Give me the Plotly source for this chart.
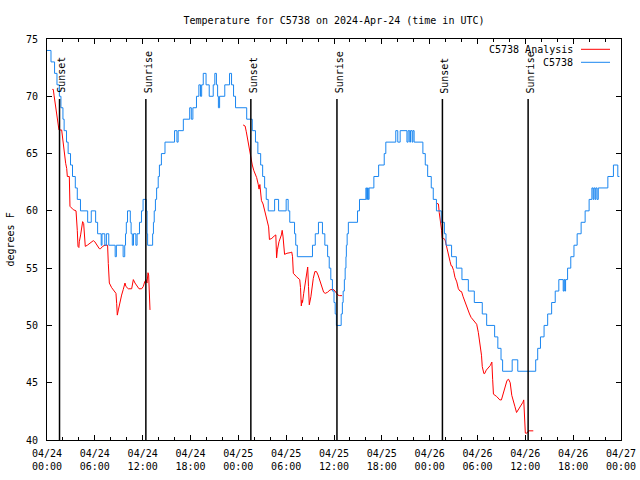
import pandas as pd
import plotly.graph_objects as go

BASE = pd.Timestamp("2024-04-24 00:00")

# ---- data (hours since 2024-04-24 00:00 UTC, degrees F) ----
obs_hours = [0.0, 0.5, 0.95, 1.25, 1.55, 1.75, 2.0, 2.15, 2.45, 2.65, 2.95, 3.2, 3.55, 3.8, 4.2,
             5.1, 5.55, 6.1, 6.35, 6.8, 6.9, 7.25, 7.45, 7.75, 8.55, 8.7, 9.55, 9.75, 9.85, 9.95,
             10.1, 10.45, 10.55, 10.7, 10.85, 11.15, 11.3, 11.6, 11.85, 12.05, 12.45, 12.55, 12.62,
             13.25, 13.35, 13.45, 13.6, 13.75, 13.95, 14.1, 14.35, 14.8, 16.0, 16.3, 16.45, 17.1,
             17.9, 18.1, 18.3, 18.75, 19.05, 19.25, 19.4, 19.6, 19.95, 20.35, 20.85, 21.05, 21.25,
             21.4, 21.5, 21.65, 22.3, 22.9, 23.15, 23.4, 23.65, 25.05, 25.75, 26.15, 26.45, 26.8,
             27.05, 27.3, 27.5, 27.75, 28.55, 29.05, 30.0, 30.25, 30.45, 31.05, 31.2, 31.4, 33.3,
             33.65, 34.05, 34.55, 34.85, 35.2, 35.4, 35.6, 35.8, 36.0, 36.15, 36.3, 36.9, 37.05,
             37.15, 37.3, 37.4, 37.5, 37.55, 37.65, 37.8, 38.95, 39.2, 40.0, 40.1, 40.2, 40.3, 40.4,
             41.0, 41.6, 42.3, 42.5, 43.75, 44.0, 44.3, 45.15, 45.3, 45.5, 45.6, 45.8, 45.9, 46.05,
             47.15, 47.45, 47.75, 48.2, 48.45, 48.85, 49.45, 49.85, 50.05, 50.75, 51.35, 52.05,
             52.85, 53.6, 54.6, 55.15, 56.15, 56.55, 56.95, 57.15, 58.35, 59.05, 61.3, 61.55, 61.9,
             62.35, 62.8, 63.3, 63.75, 64.2, 64.75, 64.85, 64.95, 65.05, 65.3, 65.7, 66.1, 66.5,
             67.0, 67.5, 68.0, 68.35, 68.5, 68.6, 68.75, 68.85, 69.0, 69.15, 70.35, 71.05, 71.6, 71.8]
obs_temps = [74, 73, 72, 71, 70, 69, 68, 67, 66, 65, 64, 63, 62, 61, 60,
             59, 60, 59, 58, 57, 58, 57, 58, 57, 56, 57, 56, 57, 58, 59,
             60, 59, 58, 57, 58, 57, 58, 59, 60, 61, 60, 58, 57,
             58, 59, 60, 61, 62, 63, 64, 65, 66, 67, 66, 67, 68,
             69, 68, 69, 70, 71, 70, 71, 72, 71, 70, 71, 72, 71,
             70, 69, 70, 71, 72, 71, 70, 69, 68, 67, 66, 65, 64,
             63, 62, 61, 60, 61, 60, 61, 60, 59, 58, 57, 56, 57,
             58, 59, 58, 57, 56, 55, 54, 53, 52, 51, 50, 51, 52,
             53, 54, 55, 56, 57, 58, 59, 60, 61, 62, 61, 62, 61, 62,
             63, 64, 65, 66, 67, 66, 67, 66, 67, 66, 67, 66, 67, 66,
             65, 64, 63, 62, 61, 60, 59, 58, 57, 56, 55, 54,
             53, 52, 51, 50, 49, 48, 47, 46, 47, 46, 47, 48, 49,
             50, 51, 52, 53, 54, 53, 54, 53, 54, 55, 56, 57, 58,
             59, 60, 61, 62, 61, 62, 61, 62, 61, 62, 63, 64, 63, 63]

ana1_hours = [0.67, 0.79, 0.88, 1.0, 1.13, 1.3, 1.42, 1.5, 1.84, 1.96, 2.13, 2.2, 2.34, 2.47, 2.55,
              2.8, 2.88, 3.3, 3.64, 3.8, 3.89, 4.0, 4.05, 4.22, 4.39, 4.47, 4.6, 4.68, 4.8, 5.06,
              5.39, 5.81, 6.0, 6.3, 6.56, 6.73, 6.98, 7.27, 7.6, 7.69, 7.82, 8.11, 8.4, 8.65, 8.74,
              8.82, 8.95, 9.07, 9.24, 9.36, 9.57, 9.78, 9.9, 10.2, 10.62, 10.83, 11.04, 11.25,
              11.54, 11.87, 12.08, 12.25, 12.42, 12.54, 12.67, 12.75, 12.83, 12.92]
ana1_temps = [70.6, 70.6, 70.1, 69.5, 68.8, 68.1, 67.3, 67.06, 67.06, 66.2, 65.5, 64.7, 64.15, 63.7, 63.0,
              63.0, 60.4, 60.1, 60.0, 58.3, 56.9, 56.8, 57.3, 57.9, 58.8, 59.06, 58.9, 58.0, 56.9, 57.0,
              57.2, 57.4, 57.3, 57.0, 56.7, 56.7, 56.9, 57.0, 57.0, 55.4, 53.7, 53.3, 53.0, 52.8, 51.9,
              50.9, 51.35, 51.8, 52.2, 52.65, 53.15, 53.7, 53.4, 53.2, 53.2, 54.0, 53.7, 53.5,
              53.2, 53.2, 53.4, 53.8, 54.0, 53.7, 54.6, 54.4, 52.2, 51.35]

ana2_hours = [24.6, 24.85, 25.0, 25.15, 25.3, 25.5, 25.6, 25.75, 25.95, 26.1, 26.3, 26.5, 26.6, 26.7,
              26.8, 26.9, 27.1, 27.3, 27.55, 27.7, 27.8, 27.9, 28.2, 28.5, 28.7, 28.8, 28.9, 29.1,
              29.4, 29.5, 29.6, 29.8, 30.1, 30.5, 30.7, 30.8, 30.9, 31.3, 31.7, 31.8, 31.9, 32.0,
              32.05, 32.2, 32.4, 32.6, 32.7, 32.8, 32.9, 33.1, 33.2, 33.4, 33.6, 33.8, 34.0, 34.2,
              34.4, 34.7, 34.9, 35.2, 35.5, 35.8, 36.0, 36.3, 36.5, 36.7, 37.0]
ana2_temps = [67.5, 67.4, 66.9, 66.3, 65.7, 64.7, 64.3, 64.0, 63.5, 63.2, 62.9, 62.3, 61.9, 62.3,
              61.8, 60.9, 60.6, 60.0, 59.5, 59.0, 58.6, 57.5, 57.6, 57.8, 57.9, 55.9, 56.6, 57.3,
              57.9, 58.3, 57.8, 56.2, 56.3, 56.35, 56.4, 56.0, 54.55, 54.25, 54.0, 53.3, 51.7, 52.2,
              52.0, 52.8, 53.7, 54.5, 55.1, 53.4, 51.8, 52.5, 53.2, 54.1, 54.7, 54.7, 54.4, 54.0,
              53.5, 52.9, 52.8, 52.9, 53.1, 53.15, 53.1, 52.8, 52.65, 52.6, 52.6]

ana3_hours = [48.87, 49.1, 49.2, 49.4, 49.5, 49.58, 49.7, 49.92, 50.04, 50.2, 50.4, 50.55, 50.7, 50.8,
              51.0, 51.17, 51.4, 51.6, 51.8, 52.0, 52.2, 52.4, 52.6, 52.8, 53.0, 53.2, 53.5, 53.7,
              53.9, 54.1, 54.2, 54.4, 54.5, 54.6, 54.8, 54.9, 55.1, 55.6, 55.8, 55.9, 56.0, 56.4,
              56.8, 57.0, 57.2, 57.4, 57.7, 57.9, 58.1, 58.3, 58.5, 58.7, 58.9, 59.1, 59.3, 59.7,
              59.8, 59.9, 60.0, 60.2, 60.4, 61.0]
ana3_temps = [60.66, 60.6, 59.85, 59.0, 58.3, 57.6, 57.6, 57.5, 57.1, 56.5, 55.9, 55.6, 55.2, 55.2,
              54.8, 54.2, 53.8, 53.2, 53.0, 52.95, 52.5, 52.1, 51.7, 51.3, 51.0, 50.7, 50.4, 50.2,
              50.1, 49.4, 48.9, 48.0, 47.4, 46.4, 45.8, 45.8, 46.1, 46.5, 46.8, 45.3, 44.0, 43.8,
              43.5, 43.5, 44.0, 44.6, 45.2, 45.3, 45.0, 43.9, 43.3, 42.9, 42.4, 42.6, 42.9, 43.3,
              43.5, 42.0, 40.6, 40.6, 40.8, 40.8]

sun_hours = [1.57, 12.40, 25.57, 36.37, 49.60, 60.35]
sun_labels = ["Sunset", "Sunrise", "Sunset", "Sunrise", "Sunset", "Sunrise"]
sun_line_top = 69.77

title_text = "Temperature for C5738 on 2024-Apr-24 (time in UTC)"
series_names = ["C5738 Analysis", "C5738"]
series_colors = ["#ff0000", "#1a86f0"]


def to_time(hours):
    return [BASE + pd.Timedelta(hours=h) if h is not None else None for h in hours]


FONT = "DejaVu Sans Mono"
FIG_W, FIG_H = 640, 480

fig = go.Figure()

# analysis (three separate runs)
ana_hours = ana1_hours + [None] + ana2_hours + [None] + ana3_hours
ana_temps = ana1_temps + [None] + ana2_temps + [None] + ana3_temps
fig.add_trace(go.Scatter(x=to_time(ana_hours), y=ana_temps, mode="lines",
                         line=dict(color=series_colors[0], width=1),
                         connectgaps=False, name=series_names[0], showlegend=False,
                         hoverinfo="skip"))
fig.add_trace(go.Scatter(x=to_time(obs_hours), y=obs_temps, mode="lines",
                         line=dict(color=series_colors[1], width=1, shape="hv"),
                         name=series_names[1], showlegend=False, hoverinfo="skip"))

# sunrise / sunset markers
for h, lab in zip(sun_hours, sun_labels):
    t = BASE + pd.Timedelta(hours=h)
    fig.add_shape(type="line", xref="x", yref="y", x0=t, x1=t, y0=40, y1=sun_line_top,
                  line=dict(color="black", width=1.5))
    fig.add_annotation(x=t, y=sun_line_top + 0.4, xref="x", yref="y", text=lab,
                       textangle=-90, showarrow=False, xanchor="center", yanchor="bottom",
                       xshift=2, font=dict(family=FONT, size=10, color="black"), borderpad=0)

# key (top-right, text then line sample)
for i, (nm, col) in enumerate(zip(series_names, series_colors)):
    ypix = 10.3 + 13 * i
    yp = 1 - ypix / 401
    fig.add_annotation(x=1, y=yp, xref="paper", yref="paper", text=nm, showarrow=False,
                       xanchor="right", yanchor="middle", xshift=-46,
                       font=dict(family=FONT, size=10, color="black"))
    fig.add_shape(type="line", xref="paper", yref="paper",
                  x0=(581 - 47) / 574, x1=(610 - 47) / 574, y0=yp, y1=yp,
                  line=dict(color=col, width=1))

# y-axis label
fig.add_annotation(x=0, y=0.5, xref="paper", yref="paper", text="degrees F", textangle=-90,
                   showarrow=False, xanchor="center", yanchor="middle", xshift=-37,
                   font=dict(family=FONT, size=10, color="black"))

fig.update_layout(
    width=FIG_W, height=FIG_H,
    margin=dict(l=47, r=19, t=39, b=40, autoexpand=False),
    paper_bgcolor="white", plot_bgcolor="white",
    title=dict(text=title_text, x=0.5, xref="paper", xanchor="center",
               y=1 - 20 / FIG_H, yref="container", yanchor="middle",
               font=dict(family=FONT, size=10, color="black")),
    font=dict(family=FONT, size=10, color="black"),
    showlegend=False,
    hovermode=False,
)
fig.update_xaxes(
    type="date", automargin=False,
    range=[BASE, BASE + pd.Timedelta(hours=72)],
    dtick=6 * 3600 * 1000, tick0=BASE, tickformat="%m/%d<br>%H:%M",
    ticks="inside", ticklen=5, tickcolor="black", tickwidth=1,
    minor=dict(dtick=2 * 3600 * 1000, tick0=BASE, ticks="inside", ticklen=3,
               tickcolor="black", showgrid=False),
    showline=True, linecolor="black", linewidth=1, mirror="ticks",
    showgrid=False, zeroline=False, ticklabelstandoff=4,
    tickfont=dict(family=FONT, size=10, color="black"),
)
fig.update_yaxes(
    automargin=False,
    range=[40, 75], dtick=5, tick0=40,
    ticks="inside", ticklen=5, tickcolor="black", tickwidth=1,
    showline=True, linecolor="black", linewidth=1, mirror="ticks",
    showgrid=False, zeroline=False, ticklabelstandoff=6,
    tickfont=dict(family=FONT, size=10, color="black"),
)

# remove the default page margin so the 640x480 figure fills the window exactly
fig.write_html("out.html",
               config={"displayModeBar": False, "staticPlot": True},
               post_script="document.body.style.margin='0';document.body.style.overflow='hidden';")
